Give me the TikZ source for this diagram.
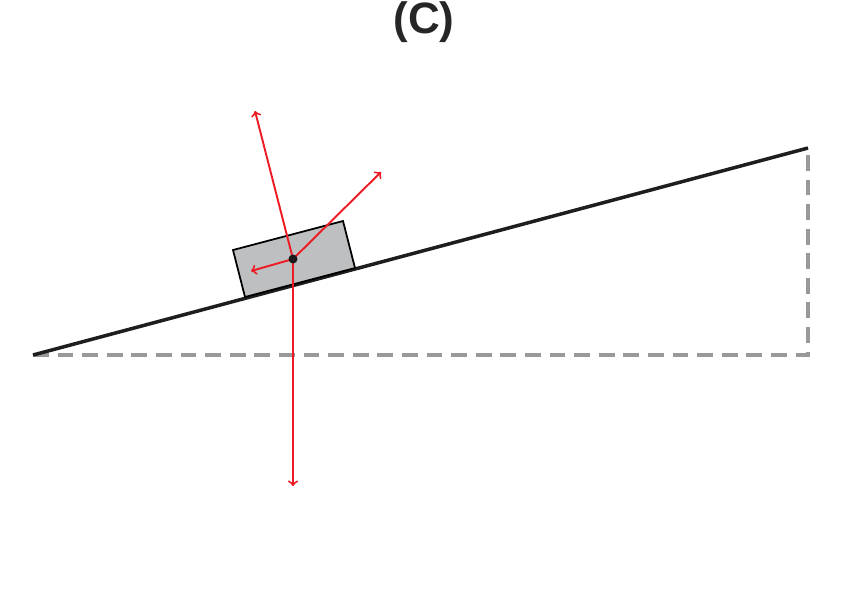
\documentclass[tikz,border=0pt]{standalone}
\usepackage{fontspec}
\setmainfont{Liberation Sans}
\begin{document}
\begin{tikzpicture}[x=0.02cm,y=-0.02cm,
		force/.style={draw={rgb,255:red,237;green,28;blue,36},line width=1.1,->},
		slope/.style={line width=2,draw={rgb,255:red,30;green,30;blue,30}}]
		\useasboundingbox (0,0) rectangle (854,600);
		
		\coordinate (A) at (33,355);
		\coordinate (B) at (808,148);
		\coordinate (C) at (808,355);
		\draw[line width=1.8,dash pattern=on 9pt off 5pt,gray!80] (A) --(C) --(B);
		\draw[slope] (A) --(B);
		
		\draw[fill={rgb,255:red,190;green,191;blue,193},line width=1] (233,250) --(343,221) --(355,268) --(245,297) --cycle;
		
		\coordinate (m) at (293,259);
		\coordinate (N) at (255,111);
		\coordinate (P) at (381,172);
		\coordinate (f) at (251,271);
		\coordinate (W) at (293,486);
		\draw[force] (m) --(N);
		\draw[force] (m) --(P);
		\draw[force] (m) --(f);
		\draw[force] (m) --(W);
		\fill[black!90] (m) circle (4.5);
		
		\node[font=\bfseries\fontsize{25}{30}\selectfont,text=black!85] (title) at (424,22) {(C)};
		
		\end{tikzpicture}
\end{document}
